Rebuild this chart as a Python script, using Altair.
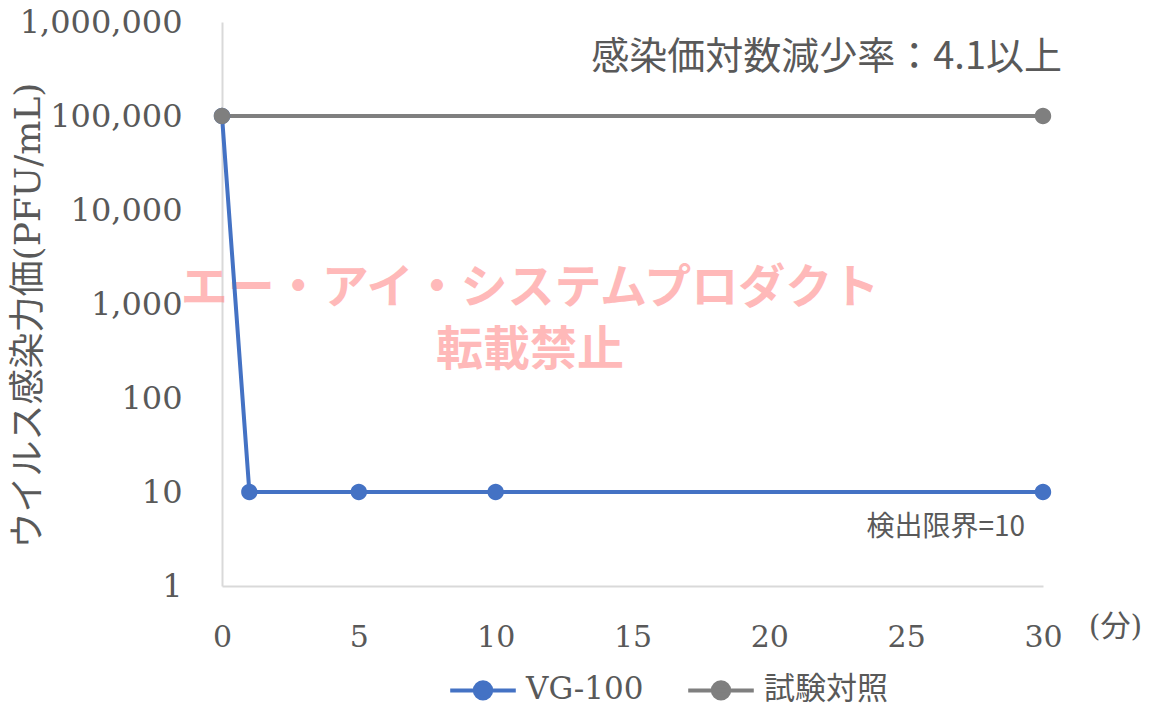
import altair as alt
import pandas as pd

# Time after contact (minutes) and infectious titer (PFU/mL)
vg_minutes = [0, 1, 5, 10, 30]
vg_titer = [100000, 10, 10, 10, 10]
ctrl_minutes = [0, 30]
ctrl_titer = [100000, 100000]

series_names = ["VG-100", "試験対照"]
series_colors = ["#4472C4", "#7F7F7F"]

y_ticks = [1, 10, 100, 1000, 10000, 100000, 1000000]
x_ticks = [0, 5, 10, 15, 20, 25, 30]

df = pd.DataFrame(
    {
        "minutes": vg_minutes + ctrl_minutes,
        "titer": vg_titer + ctrl_titer,
        "series": [series_names[0]] * len(vg_minutes) + [series_names[1]] * len(ctrl_minutes),
    }
)

SERIF = "DejaVu Serif, Noto Sans CJK JP"
SANS = "Noto Sans CJK JP"
GRAY = "#595959"

# Marker glyph: a dot with a horizontal bar; the bar only shows where a stroke is drawn
marker_glyph = "M-1,0H1M0.25,0A0.25,0.25 0 1,1 -0.25,0A0.25,0.25 0 1,1 0.25,0Z"
MARKER_SIZE = 4300

x_enc = alt.X(
    "minutes:Q",
    scale=alt.Scale(domain=[0, 30], nice=False, zero=False),
    axis=alt.Axis(
        values=x_ticks,
        grid=False,
        ticks=False,
        labelFlush=False,
        domainColor="#D9D9D9",
        domainWidth=2,
        labelFont=SERIF,
        labelFontSize=30,
        labelColor=GRAY,
        labelPadding=36,
        title="(分)",
        titleFont=SERIF,
        titleFontSize=30,
        titleFontWeight="normal",
        titleColor=GRAY,
        titleX=893,
        titleY=40,
        titleAlign="center",
        titleBaseline="middle",
    ),
)

y_enc = alt.Y(
    "titer:Q",
    scale=alt.Scale(type="log", domain=[1, 1000000], nice=False),
    axis=alt.Axis(
        values=y_ticks,
        format=",",
        grid=False,
        ticks=False,
        labelFlush=False,
        domainColor="#D9D9D9",
        domainWidth=2,
        labelFont=SERIF,
        labelFontSize=32,
        labelColor=GRAY,
        labelPadding=40,
        title="ウイルス感染力価(PFU/mL)",
        titleFont=SERIF,
        titleFontSize=36,
        titleFontWeight="normal",
        titleColor=GRAY,
        titleX=-194,
        titleY=293,
        titleAlign="center",
        titleBaseline="middle",
    ),
)

color_scale = alt.Scale(domain=series_names, range=series_colors)
series_legend = alt.Legend(
    title=None,
    orient="none",
    direction="horizontal",
    legendX=226,
    legendY=633,
    symbolType=marker_glyph,
    symbolSize=MARKER_SIZE,
    symbolStrokeWidth=4,
    labelFont=SERIF,
    labelFontSize=31,
    labelColor=GRAY,
    labelOffset=8,
    columnPadding=36,
)
color_enc = alt.Color("series:N", scale=color_scale, sort=series_names, legend=series_legend)

lines = alt.Chart(df).mark_line(strokeWidth=4).encode(
    x=x_enc,
    y=y_enc,
    color=color_enc,
    order="minutes:Q",
)

points = alt.Chart(df).mark_point(
    filled=True, shape=marker_glyph, size=MARKER_SIZE, opacity=1, strokeWidth=0
).encode(
    x="minutes:Q",
    y="titer:Q",
    color=color_enc,
)

# Watermark, two lines
wm_lines = ["エー・アイ・システムプロダクト", "転載禁止"]
wm_layers = []
for i, t in enumerate(wm_lines):
    wm_layers.append(
        alt.Chart(pd.DataFrame({"t": [t]})).mark_text(
            font=SANS,
            fontSize=47,
            fontWeight="bold",
            color="#FF8C8C",
            opacity=0.6,
            align="center",
            baseline="middle",
        ).encode(x=alt.value(308), y=alt.value(267 + 62 * i), text="t:N")
    )

# Annotations
note_df = pd.DataFrame(
    {"minutes": [30], "titer": [1000000], "t": ["感染価対数減少率：4.1以上"]}
)
note = alt.Chart(note_df).mark_text(
    font=SANS, fontSize=38, color=GRAY, align="right", baseline="middle", dx=19, dy=36
).encode(x="minutes:Q", y="titer:Q", text="t:N")

limit_df = pd.DataFrame({"minutes": [30], "titer": [10], "t": ["検出限界=10"]})
limit = alt.Chart(limit_df).mark_text(
    font=SANS, fontSize=28, color=GRAY, align="right", baseline="middle", dx=-18, dy=36
).encode(x="minutes:Q", y="titer:Q", text="t:N")

chart = (
    alt.layer(*wm_layers, lines, points, note, limit)
    .properties(
        width=821,
        height=564,
        autosize=alt.AutoSizeParams(type="none"),
        padding={"left": 222, "top": 22, "right": 107, "bottom": 119},
    )
    .configure_view(stroke=None)
    .configure_legend(labelFont=SERIF, labelFontSize=31, labelColor=GRAY)
)

chart.save("out.html", embed_options={"renderer": "svg", "actions": False})
